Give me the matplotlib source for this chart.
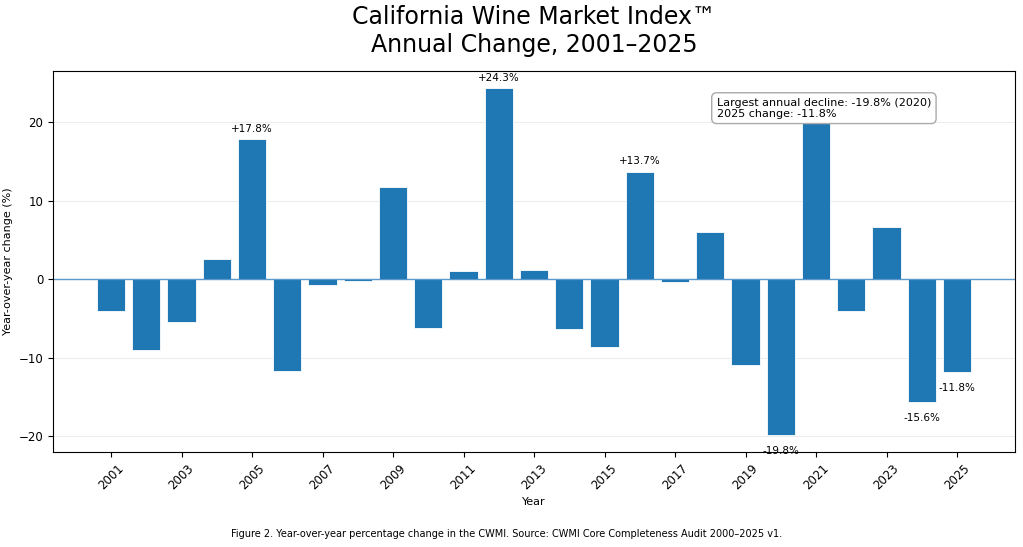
import numpy as np
import matplotlib
matplotlib.use("Agg")
import matplotlib.pyplot as plt

years = list(range(2001, 2026))
changes = [-4.0, -9.0, -5.5, 2.6, 17.8, -11.7, -0.7, -0.3, 11.8, -6.2,
           1.0, 24.3, 1.1, -6.4, -8.7, 13.7, -0.4, 6.0, -11.0, -19.8,
           21.0, -4.0, 6.6, -15.6, -11.8]
labeled_years = [2005, 2012, 2016, 2020, 2024, 2025]

fig, ax = plt.subplots(figsize=(10.23, 5.47), dpi=100)

ax.bar(years, changes, width=0.8, color="#1f77b4", edgecolor="white", linewidth=0.6)
ax.axhline(0, color="#4a90c8", linewidth=1, alpha=0.9, zorder=1)
ax.grid(axis="y", color="#dddddd", alpha=0.5, linewidth=0.8)
ax.set_axisbelow(True)

for y, v in zip(years, changes):
    if y not in labeled_years:
        continue
    if v >= 0:
        ax.annotate(f"+{v:.1f}%", (y, v), xytext=(0, 4), textcoords="offset points",
                    ha="center", va="bottom", fontsize=7.5)
    else:
        ax.annotate(f"{v:.1f}%", (y, v), xytext=(0, -8), textcoords="offset points",
                    ha="center", va="top", fontsize=7.5)

ax.text(0.69, 0.93, "Largest annual decline: -19.8% (2020)\n2025 change: -11.8%",
        transform=ax.transAxes, ha="left", va="top", fontsize=8, zorder=5,
        linespacing=1.1,
        bbox=dict(boxstyle="round,pad=0.45", facecolor="white", edgecolor="#aaaaaa"))

ax.set_xticks(years[::2])
ax.tick_params(axis="x", labelrotation=45)
ax.tick_params(labelsize=8.5)
ax.set_xlabel("Year", fontsize=8)
ax.set_ylabel("Year-over-year change (%)", fontsize=8)
ax.set_title("California Wine Market Index\u2122\nAnnual Change, 2001\u20132025", fontsize=17, pad=14)

fig.text(0.495, 0.018, "Figure 2. Year-over-year percentage change in the CWMI. Source: CWMI Core Completeness Audit 2000\u20132025 v1.",
         ha="center", fontsize=7)

fig.subplots_adjust(left=0.052, right=0.992, top=0.87, bottom=0.174)
fig.savefig("out.png", dpi=100)
